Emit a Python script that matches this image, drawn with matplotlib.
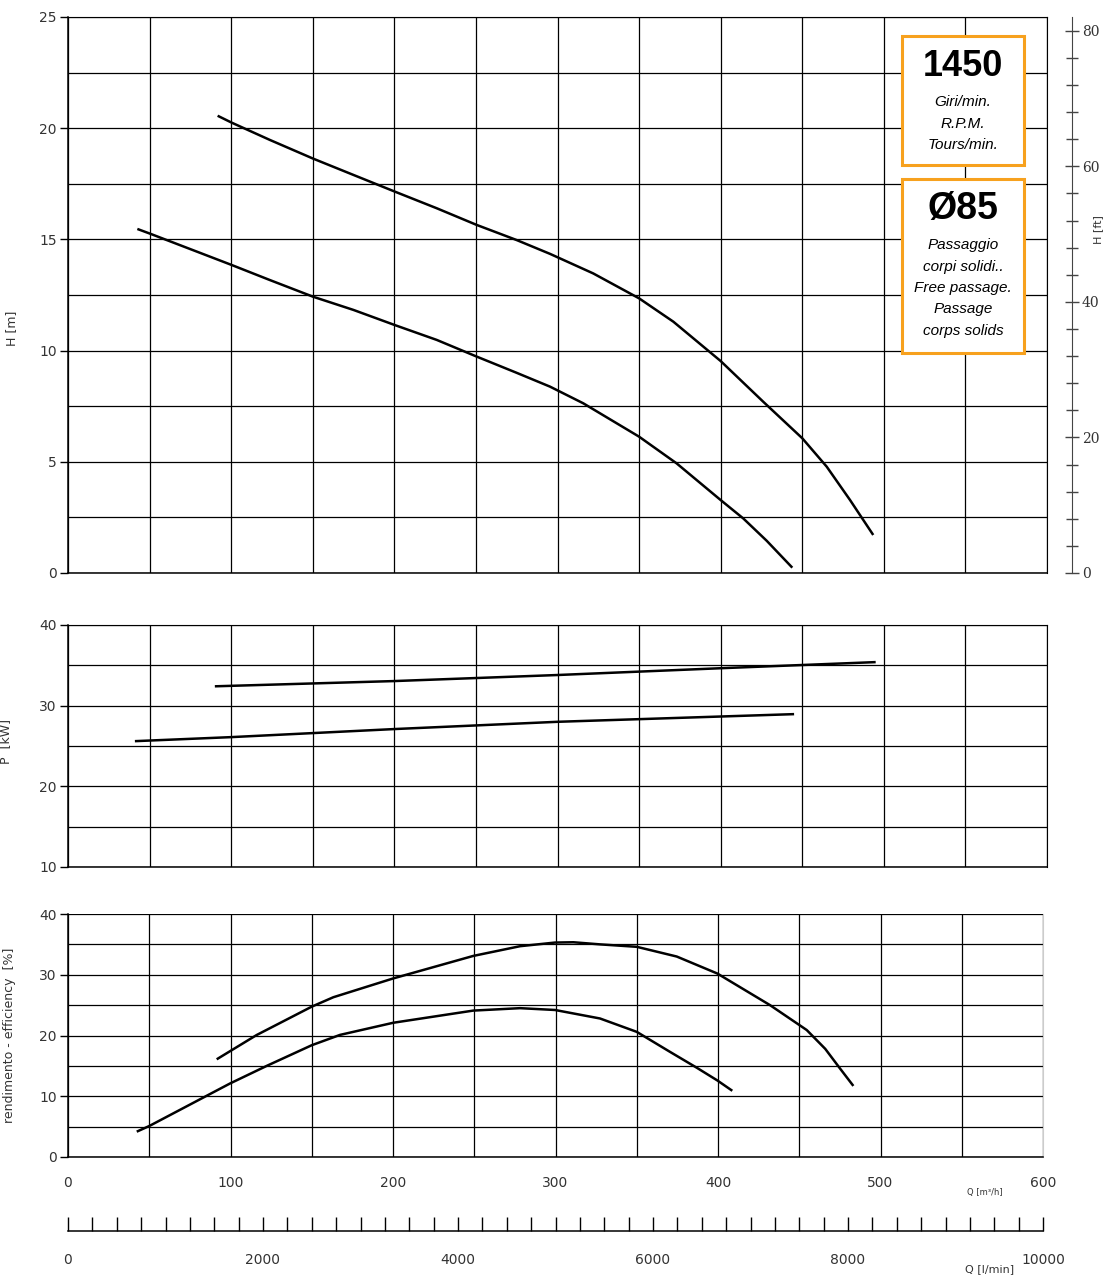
import numpy as np
import matplotlib
matplotlib.use('Agg')
import matplotlib.pyplot as plt
from matplotlib.ticker import MultipleLocator
from matplotlib.patches import Rectangle

# --- curve data (Q in m3/h) ---
# head curves H [m]
q_h_hi = [91.7, 100.3, 123.8, 150.3, 174.9, 200.6, 226, 250.5, 275, 295.4, 321.9, 350, 371,
          400, 426.1, 450, 465, 479.3, 493.5]
h_hi = [20.56, 20.25, 19.47, 18.63, 17.9, 17.14, 16.4, 15.65, 14.97, 14.35, 13.47, 12.35, 11.3,
        9.53, 7.7, 6.06, 4.78, 3.28, 1.71]
q_h_lo = [42.5, 51.3, 100.3, 123.8, 150.3, 174.9, 200.6, 226, 250.5, 275, 295.4, 315.8, 350,
          373, 400, 413.9, 428.2, 443.9]
h_lo = [15.47, 15.23, 13.85, 13.17, 12.42, 11.83, 11.14, 10.48, 9.73, 9.0, 8.38, 7.63, 6.13,
        4.93, 3.28, 2.45, 1.45, 0.24]

# absorbed power P [kW]
q_p_hi = [90, 200, 300, 401, 495]
p_hi = [32.4, 33.05, 33.8, 34.65, 35.4]
q_p_lo = [41, 100, 200, 300, 445]
p_lo = [25.6, 26.1, 27.1, 28.0, 28.95]

# efficiency [%]
q_e_hi = [91.5, 116.1, 150, 163.3, 200.2, 249.4, 278.2, 299.7, 311, 327.4, 350, 374.6, 399.6,
          432, 454.6, 466, 475, 483.3]
e_hi = [16.08, 20.08, 24.75, 26.3, 29.4, 33.1, 34.7, 35.3, 35.35, 35.0, 34.6, 33.0, 30.2,
        25.0, 20.9, 17.8, 14.6, 11.7]
q_e_lo = [42.3, 50, 99.7, 122.3, 150, 167.4, 200.2, 249.4, 278.2, 299.7, 327.4, 350, 370.5,
          386.9, 399.6, 408.8]
e_lo = [4.17, 5.1, 12.1, 15.0, 18.4, 20.1, 22.1, 24.1, 24.5, 24.2, 22.8, 20.6, 17.3, 14.7,
        12.6, 10.9]

rpm_text = "1450"
rpm_lines = ["Giri/min.", "R.P.M.", "Tours/min."]
pass_text = "Ø85"
pass_lines = ["Passaggio", "corpi solidi..", "Free passage.", "Passage", "corps solids"]

plt.rcParams['font.family'] = ['DejaVu Sans']
tick_col = '#333333'
orange = '#F7A11E'
box_font = ['Liberation Sans', 'DejaVu Sans']
line_kw = dict(color='black', lw=1.8, zorder=3, solid_joinstyle='round', solid_capstyle='butt')

fig = plt.figure(figsize=(11.03, 12.77), dpi=100)
W, H = 1103.0, 1277.0
left = 68 / W
width = 979 / W


def frame(ax, ymin, ymax, ymaj, ymin_step):
    ax.set_xlim(0, 600)
    ax.set_ylim(ymin, ymax)
    ax.xaxis.set_major_locator(MultipleLocator(100))
    ax.xaxis.set_minor_locator(MultipleLocator(50))
    ax.yaxis.set_major_locator(MultipleLocator(ymaj))
    ax.yaxis.set_minor_locator(MultipleLocator(ymin_step))
    ax.grid(True, which='both', color='black', lw=0.9, zorder=0)
    ax.set_axisbelow(True)
    ax.tick_params(axis='y', which='major', direction='out', length=6, width=1,
                   labelsize=10, labelcolor=tick_col, pad=2)
    ax.tick_params(axis='y', which='minor', length=0)
    ax.tick_params(axis='x', which='both', length=0, labelbottom=False)
    for s in ['top', 'right']:
        ax.spines[s].set_visible(False)
    for s in ['left', 'bottom']:
        ax.spines[s].set_linewidth(1.1)


# --- top: head ---
ax1 = fig.add_axes([left, 1 - 573 / H, width, 556 / H])
frame(ax1, 0, 25, 5, 2.5)
ax1.spines['top'].set_visible(True)
ax1.spines['right'].set_visible(True)
ax1.plot(q_h_hi, h_hi, **line_kw)
ax1.plot(q_h_lo, h_lo, **line_kw)
ax1.set_ylabel('H [m]', fontsize=9, color=tick_col)
ax1.yaxis.set_label_coords(-0.051, 0.44)

ax_ft = ax1.twinx()
ax_ft.set_ylim(0, 25 / 0.3048)
ax_ft.spines['right'].set_position(('axes', 1.0255))
for s in ['top', 'left', 'bottom']:
    ax_ft.spines[s].set_visible(False)
ax_ft.spines['right'].set_color('#444444')
ax_ft.yaxis.set_major_locator(MultipleLocator(20))
ax_ft.yaxis.set_minor_locator(MultipleLocator(4))
ax_ft.tick_params(axis='y', which='major', direction='inout', length=10, width=1,
                  labelsize=10, labelcolor=tick_col, pad=2, colors='#444444')
ax_ft.tick_params(axis='y', which='minor', direction='inout', length=8, width=1,
                  colors='#444444')
for t in ax_ft.get_yticklabels():
    t.set_family('DejaVu Serif')
ax_ft.set_ylabel('H [ft]', fontsize=8, color=tick_col, rotation=90)
ax_ft.yaxis.set_label_coords(1.047, 0.617)

# info boxes
bx0 = (902 - 68) / 979
bw = (1024 - 902) / 979
cx = (963 - 68) / 979


def ay(py):
    return (573 - py) / 556.0


ax1.add_patch(Rectangle((bx0, ay(165)), bw, ay(36) - ay(165), transform=ax1.transAxes,
                        facecolor='white', edgecolor=orange, lw=2.2, zorder=5, clip_on=False))
ax1.add_patch(Rectangle((bx0, ay(353)), bw, ay(179) - ay(353), transform=ax1.transAxes,
                        facecolor='white', edgecolor=orange, lw=2.2, zorder=5, clip_on=False))
ax1.text(cx, ay(67), rpm_text, transform=ax1.transAxes, ha='center', va='center',
         fontsize=26, fontweight='bold', family=box_font, zorder=6)
for i, s in enumerate(rpm_lines):
    ax1.text(cx, ay(102 + 21.5 * i), s, transform=ax1.transAxes, ha='center', va='center',
             fontsize=11, style='italic', family=box_font, zorder=6)
ax1.text(cx, ay(209), pass_text, transform=ax1.transAxes, ha='center', va='center',
         fontsize=27, fontweight='bold', family=box_font, zorder=6)
for i, s in enumerate(pass_lines):
    ax1.text(cx, ay(245 + 21.5 * i), s, transform=ax1.transAxes, ha='center', va='center',
             fontsize=11, style='italic', family=box_font, zorder=6)

# --- middle: power ---
ax2 = fig.add_axes([left, 1 - 867 / H, width, 242 / H])
frame(ax2, 10, 40, 10, 5)
ax2.spines['top'].set_visible(True)
ax2.spines['right'].set_visible(True)
ax2.plot(q_p_hi, p_hi, **line_kw)
ax2.plot(q_p_lo, p_lo, **line_kw)
ax2.set_ylabel('P  [kW]', fontsize=9, color=tick_col)
ax2.yaxis.set_label_coords(-0.057, 0.52)

# --- bottom: efficiency ---
ax3 = fig.add_axes([left, 1 - 1157 / H, 975 / W, 243 / H])
frame(ax3, 0, 40, 10, 5)
ax3.spines['right'].set_visible(True)
ax3.spines['right'].set_color('#cccccc')
ax3.plot(q_e_hi, e_hi, **line_kw)
ax3.plot(q_e_lo, e_lo, **line_kw)
ax3.tick_params(axis='x', which='major', labelbottom=True, labelsize=10,
                labelcolor=tick_col, pad=14)
ax3.set_ylabel('rendimento - efficiency  [%]', fontsize=9, color=tick_col)
ax3.yaxis.set_label_coords(-0.053, 0.5)
fig.text(985 / W, 1 - 1192 / H, 'Q [m³/h]', fontsize=6, color=tick_col,
         ha='center', va='center')

# --- second flow scale in l/min ---
ax4 = fig.add_axes([left, 1 - 1231 / H, 975 / W, 1e-4])
ax4.set_xlim(0, 10000)
ax4.set_yticks([])
for s in ['top', 'left', 'right']:
    ax4.spines[s].set_visible(False)
ax4.spines['bottom'].set_linewidth(1.1)
ax4.xaxis.set_major_locator(MultipleLocator(2000))
ax4.xaxis.set_minor_locator(MultipleLocator(250))
ax4.tick_params(axis='x', which='major', direction='in', length=10, width=1,
                labelsize=10, labelcolor=tick_col, pad=16)
ax4.tick_params(axis='x', which='minor', direction='in', length=10, width=1)
ax4.patch.set_visible(False)
fig.text(990 / W, 1 - 1269 / H, 'Q [l/min]', fontsize=8, color=tick_col,
         ha='center', va='center')

fig.savefig('out.png', dpi=100)
